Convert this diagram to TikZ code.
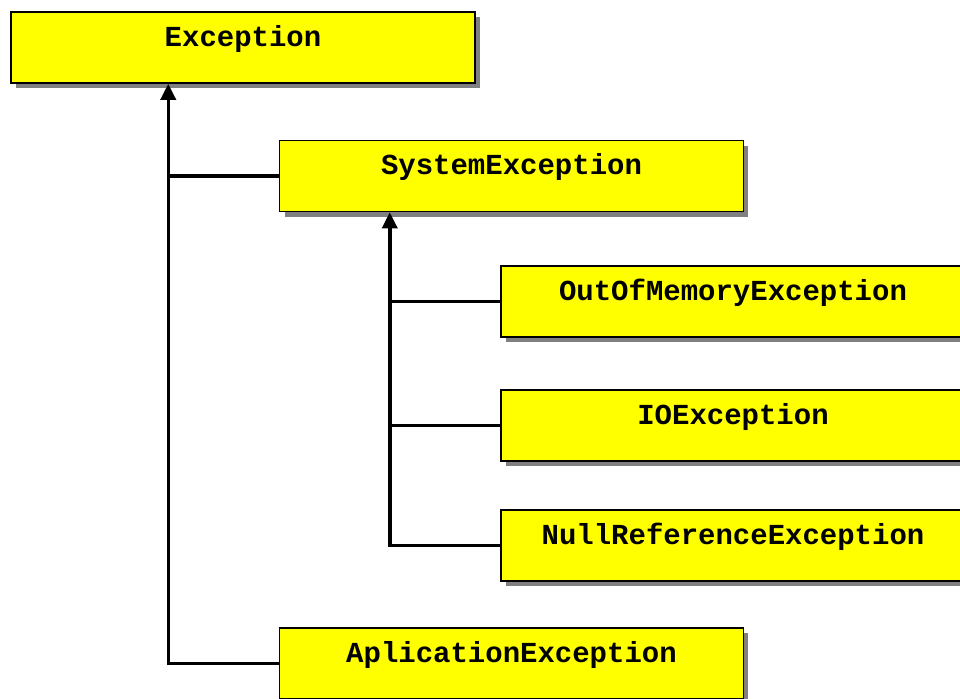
\documentclass[tikz,border=0pt]{standalone}
\usepackage{fontspec}
\setmonofont{Liberation Mono}
\usetikzlibrary{arrows.meta,shadows}
\definecolor{boxyellow}{RGB}{255,255,0}

\begin{document}
\begin{tikzpicture}[>={Triangle[width=0.3cm,length=0.32cm]}, x=0.02cm, y=-0.02cm,
    classbox/.style={draw=black, line width=0.9pt, fill=boxyellow, minimum width=9.28cm, minimum height=1.42cm,
        inner sep=0pt, text height=0.4cm, text depth=0.46cm,
        font=\ttfamily\bfseries\fontsize{16.5}{20}\selectfont,
        drop shadow={shadow xshift=0.1cm, shadow yshift=-0.1cm, fill=black!50, opacity=1}},
    link/.style={line width=2pt}]
            \useasboundingbox (0,0) rectangle (960,698);
            \clip (0,0) rectangle (960,698);
            \node[classbox] (exc) at (243,47.5) {Exception};
            \node[classbox] (sys) at (511.5,176) {SystemException};
            \node[classbox] (oom) at (733,301.5) {OutOfMemoryException};
            \node[classbox] (io) at (733,425.5) {IOException};
            \node[classbox] (null) at (733,545.5) {NullReferenceException};
            \node[classbox] (app) at (511.5,663.5) {AplicationException};
            \path (exc.south west) ++(158,0) coordinate (excin);
            \path (sys.south west) ++(111,0) coordinate (sysin);
            \draw[->, link] (app.west) -| (excin);
            \draw[link] (sys.west) -- (sys.west -| excin);
            \draw[->, link] (null.west) -| (sysin);
            \draw[link] (oom.west) -- (oom.west -| sysin);
            \draw[link] (io.west) -- (io.west -| sysin);
        \end{tikzpicture}
\end{document}
